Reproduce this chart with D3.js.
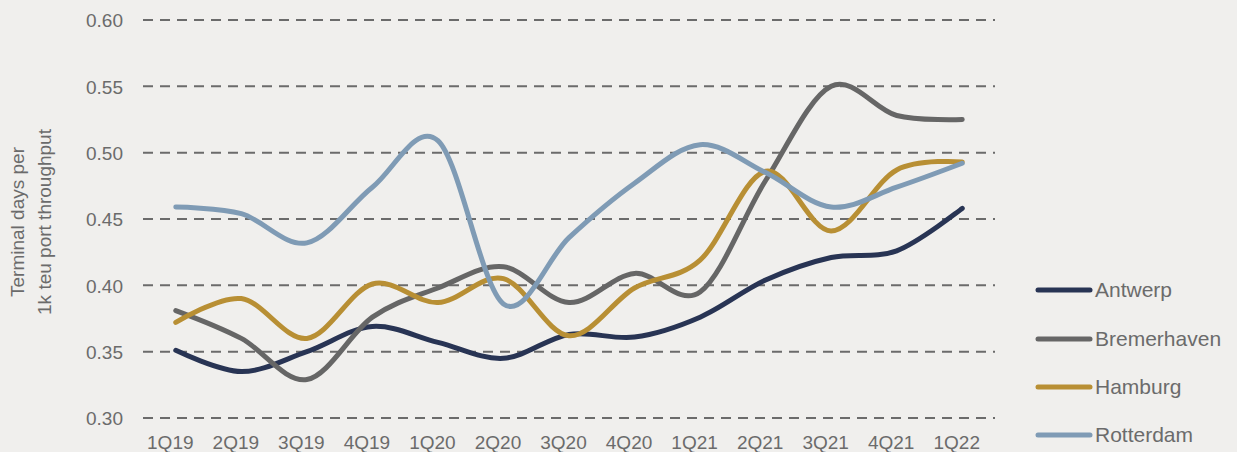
<!DOCTYPE html>
<html><head><meta charset="utf-8">
<script src="https://cdn.jsdelivr.net/npm/d3@7"></script>
<style>
html,body{margin:0;padding:0;background:#f0efed;}
svg{display:block;font-family:"Liberation Sans",Arial,Helvetica,sans-serif;}
</style></head>
<body><svg id="c" width="1237" height="452"></svg>
<script>
const categories = ["1Q19","2Q19","3Q19","4Q19","1Q20","2Q20","3Q20","4Q20","1Q21","2Q21","3Q21","4Q21","1Q22"];
const antwerp     = [0.351,0.335,0.350,0.369,0.357,0.345,0.363,0.361,0.376,0.404,0.421,0.426,0.458];
const bremerhaven = [0.381,0.360,0.329,0.376,0.398,0.414,0.387,0.409,0.395,0.479,0.550,0.528,0.525];
const hamburg     = [0.372,0.390,0.360,0.401,0.387,0.405,0.362,0.398,0.419,0.486,0.441,0.487,0.493];
const rotterdam   = [0.459,0.454,0.432,0.474,0.509,0.386,0.436,0.477,0.506,0.485,0.459,0.474,0.492];
const yTicks = [0.30,0.35,0.40,0.45,0.50,0.55,0.60];
const seriesNames = ["Antwerp","Bremerhaven","Hamburg","Rotterdam"];
const seriesColors = ["#283454","#666666","#b88f34","#7f9bb5"];
const seriesValues = [antwerp,bremerhaven,hamburg,rotterdam];

const svg = d3.select("#c");
const x = d3.scalePoint().domain(categories).range([143,995]).padding(0.5);
const y = d3.scaleLinear().domain([0.30,0.60]).range([418,20]);

// gridlines
svg.append("g").selectAll("line").data(yTicks).join("line")
  .attr("x1",143).attr("x2",995)
  .attr("y1",d=>y(d)).attr("y2",d=>y(d))
  .attr("stroke","#6b6b6b").attr("stroke-width",2).attr("stroke-dasharray","10,7");

// y axis labels
const yAxis = d3.axisLeft(y).tickValues(yTicks).tickFormat(d3.format(".2f")).tickSize(0).tickPadding(0);
const ya = svg.append("g").attr("transform","translate(123,0)").call(yAxis);
ya.select(".domain").remove();
ya.selectAll("text").attr("fill","#6b6b6b").style("font-size","19px").attr("dy","0.36em")
  .style("font-family","'Liberation Sans',Arial,sans-serif");

// x axis labels
const xAxis = d3.axisBottom(x).tickSize(0).tickPadding(0);
const xa = svg.append("g").attr("transform","translate(-6,0)").call(xAxis);
xa.select(".domain").remove();
xa.selectAll("text").attr("fill","#6b6b6b").style("font-size","19px")
  .attr("y",449).attr("dy",null)
  .style("font-family","'Liberation Sans',Arial,sans-serif");

// y title
const yt = svg.append("text").attr("transform","translate(31,222) rotate(-90)")
  .attr("text-anchor","middle").attr("fill","#6b6b6b").style("font-size","19px");
yt.append("tspan").attr("x",0).attr("dy","-0.35em").text("Terminal days per");
yt.append("tspan").attr("x",0).attr("dy","1.4em").text("1k teu port throughput");

// lines
const line = d3.line().x((d,i)=>x(categories[i])).y(d=>y(d)).curve(d3.curveCardinal.tension(0));
seriesValues.forEach((vals,k)=>{
  svg.append("path").datum(vals).attr("d",line).attr("fill","none")
    .attr("stroke",seriesColors[k]).attr("stroke-width",5)
    .attr("stroke-linecap","round").attr("stroke-linejoin","round");
});

// legend
const legendY = [290,339,387,435];
const lg = svg.append("g");
seriesNames.forEach((n,k)=>{
  lg.append("line").attr("x1",1038).attr("x2",1090).attr("y1",legendY[k]).attr("y2",legendY[k])
    .attr("stroke",seriesColors[k]).attr("stroke-width",5).attr("stroke-linecap","round");
  lg.append("text").attr("x",1095).attr("y",legendY[k]).attr("dy","0.35em")
    .attr("fill","#6b6b6b").style("font-size","21px").text(n);
});
</script></body></html>
